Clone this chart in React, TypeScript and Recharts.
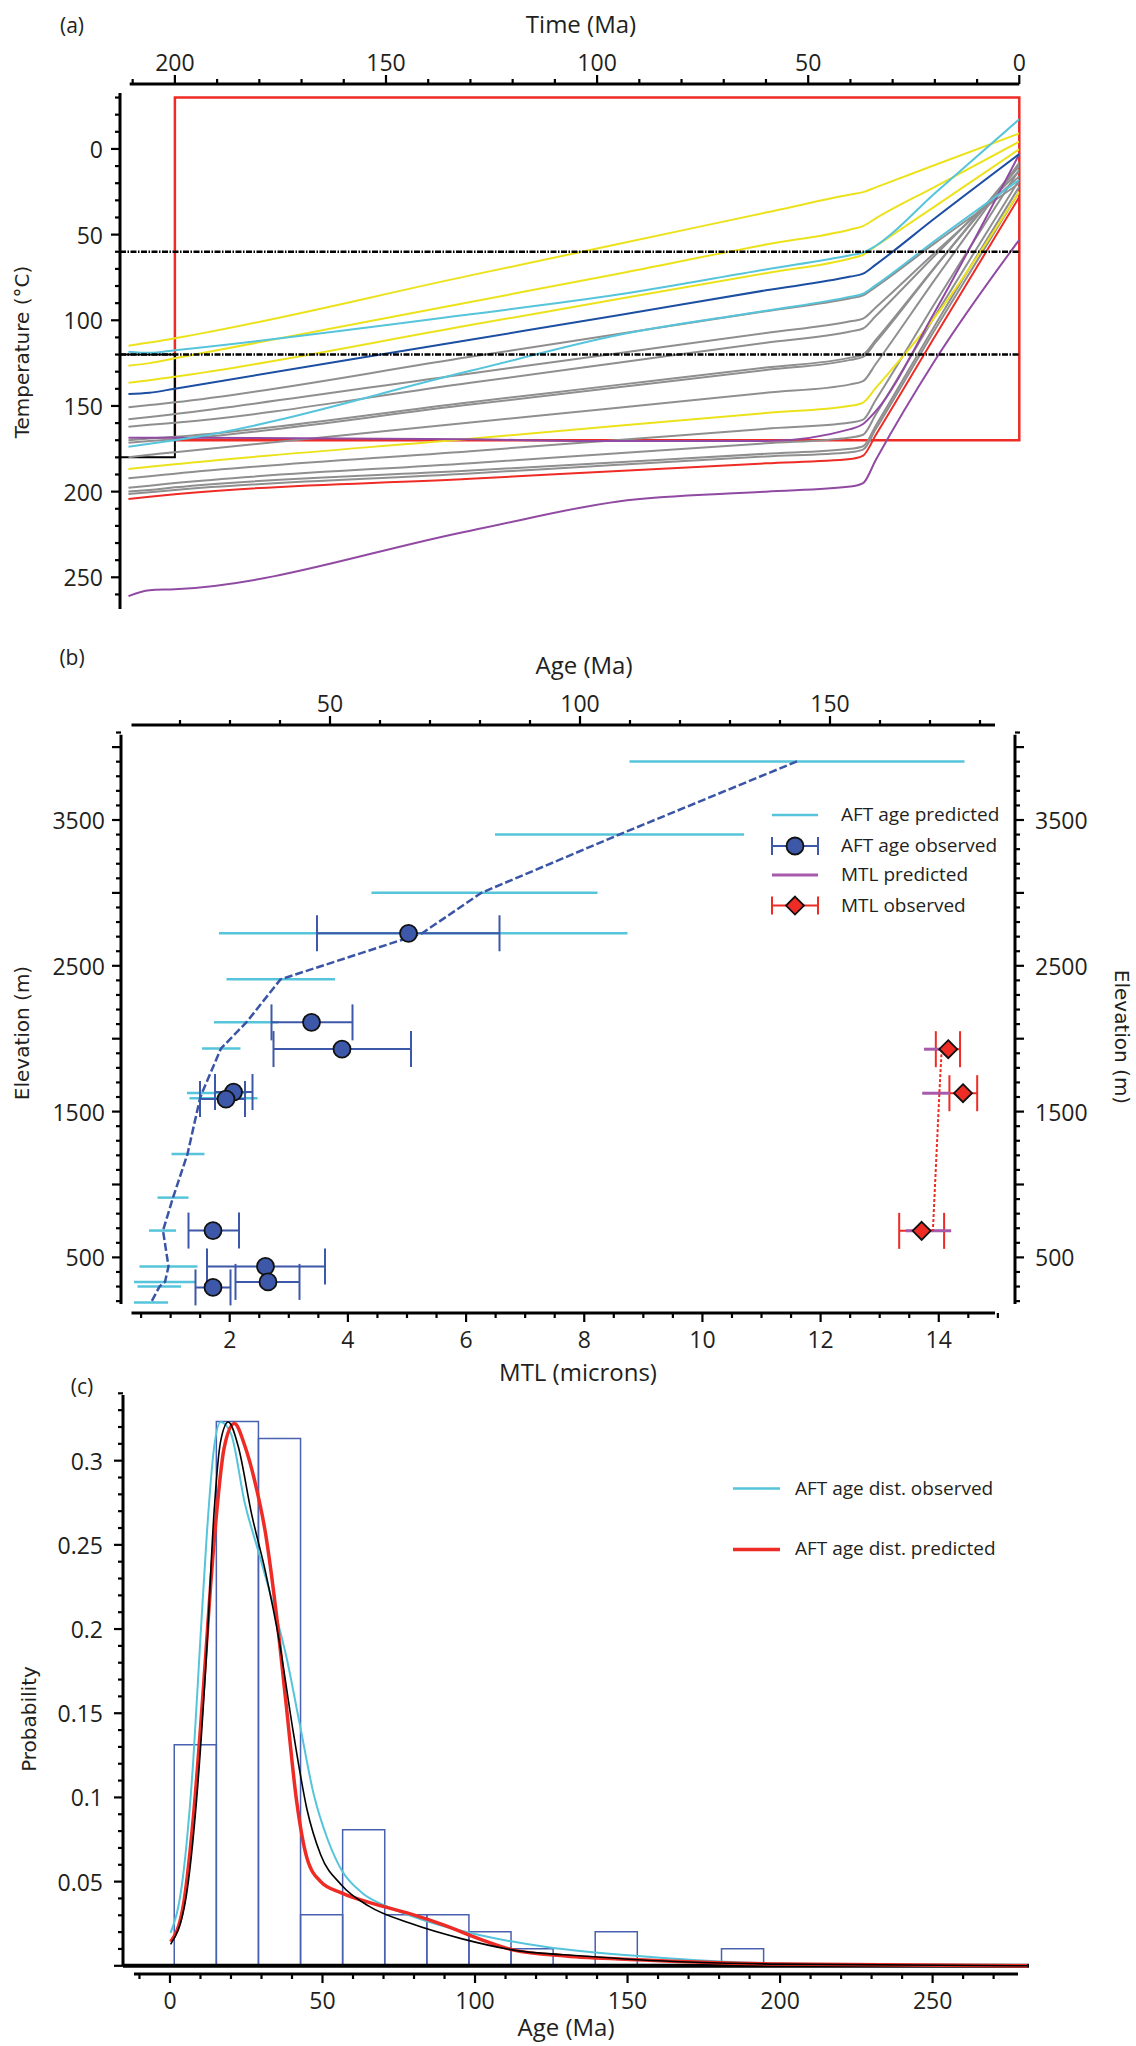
import React from "react";
import {
  LineChart,
  Line,
  ScatterChart,
  Scatter,
  ComposedChart,
  XAxis,
  YAxis,
  ReferenceLine,
  ReferenceArea,
  ErrorBar,
} from "recharts";

const FONT = "'Open Sans', 'Noto Sans', sans-serif";
const TITLE_FONT = "'DejaVu Sans', Verdana, sans-serif";
const INK = "#231f20";

// ---------- (a) time–temperature paths ----------
const pathTimes = [211, 206, 200, 130, 95, 60, 40, 37, 34, 20, 0];

const greyA = [150.8, 149.5, 147.9, 121.3, 108, 94.7, 87.1, 85.5, 80.5, 55, 20];
const greyB = [157.8, 156.5, 154.7, 131, 119.2, 107.4, 100.6, 99, 92.5, 60.5, 16];
const greyC = [162.1, 161, 159.8, 136.5, 124.8, 113.1, 106.5, 104.8, 97.5, 62.2, 13];
const greyD1 = [170, 169, 168, 147.8, 137.7, 127.6, 121.8, 120, 111.5, 69, 10];
const greyD2 = [171.5, 170.5, 169.5, 149.2, 139.1, 129, 123.1, 121.3, 112.8, 69.2, 9];
const greyE = [180, 178.5, 177, 159.6, 151, 142.3, 137.4, 135.5, 125.5, 76.3, 8];
const greyF = [192.2, 191, 189.5, 176.4, 169.9, 163.3, 159.7, 158, 146.5, 90.1, 12];
const greyG = [197.7, 196.5, 195, 183.4, 177.6, 171.8, 168.4, 166.8, 155, 97.6, 18];
const greyH = [200, 199, 197.5, 187.7, 182.8, 177.9, 175, 173.5, 161.5, 103, 22];
const greyI = [201.4, 200.3, 199, 189.4, 184.3, 179.5, 177, 175.5, 163.5, 105.5, 25];
const yellow1 = [114.8, 113, 110.5, 73.8, 55.5, 37.1, 26.6, 25.2, 22.4, 9.4, -9.1];
const yellow2 = [126.5, 125, 122.2, 89.3, 72.8, 55.8, 47, 45, 40.5, 22.1, -4.3];
const yellow3 = [136.4, 135, 133, 102.8, 87.6, 72.5, 63.9, 61.8, 56.8, 33.5, 0.2];
const yellow4 = [186.8, 185.5, 184, 169.1, 161.6, 154.1, 149.9, 148, 139.5, 98.2, 25];
const cyan1 = [118.3, 119, 117.5, 96.5, 85, 70.3, 62, 60.5, 56.5, 25.8, -17.3];
const cyan2 = [173.8, 172, 170, 129.5, 108.6, 94.4, 86.2, 84.5, 79.5, 53.6, 18];
const blue1 = [143, 142.3, 139.9, 111.3, 97.1, 82.5, 74.5, 72.8, 67.5, 40.5, 3];
const purple1 = [168.5, 168.5, 168.5, 169.5, 170.5, 170.5, 163.5, 160.5, 153, 95, 3];
const purple2 = [261, 257.5, 257, 222.8, 205.7, 200, 197, 195, 181.5, 123.5, 53];
const red1 = [204.3, 203, 201.5, 192.5, 188, 183.5, 181, 179, 167, 109.5, 28];

const timeLabels = [200, 150, 100, 50, 0];
const tempLabels = [0, 50, 100, 150, 200, 250];

// ---------- (b) age / MTL vs elevation ----------
const predElev = [3902, 3401, 3001, 2723, 2407, 2113, 1933, 1628, 1591, 1209, 910, 684, 438, 332, 300, 190];
const predAgeMin = [109.9, 83.0, 58.3, 27.8, 29.3, 26.8, 24.4, 21.4, 21.9, 18.3, 15.5, 13.8, 11.9, 10.8, 11.5, 10.8];
const predAgeMax = [176.9, 132.8, 103.5, 109.5, 51.0, 39.7, 32.1, 33.3, 35.5, 24.9, 21.7, 19.2, 23.5, 23.1, 20.2, 17.6];
const predAgeMid = [143.4, 107.9, 80.3, 68.4, 40.1, 33.3, 28.2, 24.4, 24.0, 21.5, 18.6, 16.6, 17.7, 17.0, 15.9, 14.2];

const obsElev = [2723, 2112, 1929, 1634, 1586, 684, 438, 332, 294];
const obsAge = [65.7, 46.3, 52.4, 30.7, 29.2, 26.6, 37.1, 37.6, 26.6];
const obsAgeLo = [47.4, 38.3, 38.7, 27.0, 24.0, 21.7, 25.4, 31.1, 23.1];
const obsAgeHi = [83.9, 54.5, 66.2, 34.5, 33.0, 31.8, 49.0, 43.9, 30.1];

const mtlElev = [1928, 1626, 682];
const mtlPredMid = [14.05, 14.01, 13.9];
const mtlPredLo = [13.75, 13.72, 13.44];
const mtlPredHi = [14.27, 14.19, 14.21];
const mtlObs = [14.16, 14.41, 13.71];
const mtlObsLo = [13.95, 14.18, 13.33];
const mtlObsHi = [14.36, 14.65, 14.09];

const ageLabels = [50, 100, 150];
const mtlLabels = [2, 4, 6, 8, 10, 12, 14];
const elevLabels = [500, 1500, 2500, 3500];

// ---------- (c) age distribution ----------
const binEdges = [1.4, 15.2, 29.0, 42.8, 56.6, 70.4, 84.2, 98.0, 111.8, 125.6, 139.4, 153.2, 167.0, 180.8, 194.6];
const binProb = [0.1313, 0.3232, 0.3131, 0.0303, 0.0808, 0.0303, 0.0303, 0.0202, 0.0101, 0, 0.0202, 0, 0, 0.0101];

const obsDistAge = [0.2, 4.2, 7.6, 9.8, 12.1, 14.4, 16.6, 20, 24.5, 29, 33.6, 38.1, 42.6, 47.1, 51.7, 56.2, 63, 70.9, 84.5, 101.4, 124, 153.4, 182, 230, 281];
const obsDistP = [0.0195, 0.052, 0.121, 0.189, 0.257, 0.307, 0.323, 0.316, 0.275, 0.246, 0.216, 0.184, 0.143, 0.102, 0.075, 0.057, 0.0433, 0.0354, 0.0263, 0.0183, 0.011, 0.0058, 0.0024, 0.0006, 0];
const predDistAge = [0.2, 4.2, 7.6, 11, 13.2, 15.5, 17.7, 21.1, 24.5, 27.9, 31.3, 34.7, 38.1, 41.5, 44.9, 49.4, 56.2, 67.5, 78.8, 90.1, 101.4, 112.7, 129.7, 153.4, 200, 281];
const predDistP = [0.0143, 0.034, 0.087, 0.166, 0.223, 0.273, 0.307, 0.322, 0.309, 0.287, 0.257, 0.2115, 0.155, 0.098, 0.064, 0.05, 0.0433, 0.0365, 0.0308, 0.024, 0.016, 0.0093, 0.0058, 0.0036, 0.001, 0];
const blackAge = [0.2, 5.3, 8.7, 12.1, 14.4, 16.6, 19.1, 22.3, 26.8, 31.3, 35.8, 40.4, 44.9, 49.4, 56.2, 65.2, 78.8, 95.8, 112.7, 135.3, 153.4, 200, 281];
const blackP = [0.0127, 0.041, 0.098, 0.189, 0.268, 0.3115, 0.323, 0.309, 0.268, 0.234, 0.193, 0.139, 0.093, 0.066, 0.048, 0.0354, 0.0252, 0.016, 0.0093, 0.0058, 0.0036, 0.001, 0];

const histAgeLabels = [0, 50, 100, 150, 200, 250];
const probLabels = [0.05, 0.1, 0.15, 0.2, 0.25, 0.3];

// colours
const GREY = "#8f8f8f";
const YELLOW = "#ece21c";
const CYAN = "#56c4da";
const BLUE = "#1c4ea2";
const PURPLE = "#914aa2";
const RED = "#ee2b25";
const OBS_BLUE = "#3d58a8";
const MTL_PURPLE = "#a75aab";
const HIST_BLUE = "#4a60b0";

const steps = (from: number, to: number, step: number) => {
  const out: number[] = [];
  for (let v = from; v <= to + step / 1000; v += step) out.push(Math.round(v * 1000) / 1000);
  return out;
};

const tTPaths = [
  { key: "gA", color: GREY, temps: greyA },
  { key: "gB", color: GREY, temps: greyB },
  { key: "gC", color: GREY, temps: greyC },
  { key: "gD1", color: GREY, temps: greyD1 },
  { key: "gD2", color: GREY, temps: greyD2 },
  { key: "gE", color: GREY, temps: greyE },
  { key: "gF", color: GREY, temps: greyF },
  { key: "gG", color: GREY, temps: greyG },
  { key: "gH", color: GREY, temps: greyH },
  { key: "gI", color: GREY, temps: greyI },
  { key: "y1", color: YELLOW, temps: yellow1 },
  { key: "y2", color: YELLOW, temps: yellow2 },
  { key: "y3", color: YELLOW, temps: yellow3 },
  { key: "y4", color: YELLOW, temps: yellow4 },
  { key: "p1", color: PURPLE, temps: purple1 },
  { key: "p2", color: PURPLE, temps: purple2 },
  { key: "c1", color: CYAN, temps: cyan1 },
  { key: "c2", color: CYAN, temps: cyan2 },
  { key: "b1", color: BLUE, temps: blue1 },
  { key: "r1", color: RED, temps: red1 },
];

const tTRows = pathTimes.map((t, i) => {
  const row: Record<string, number> = { time: t };
  tTPaths.forEach((p) => (row[p.key] = p.temps[i]));
  return row;
});

const predAgeRows = predElev.map((e, i) => ({
  x: predAgeMid[i],
  y: e,
  err: [predAgeMid[i] - predAgeMin[i], predAgeMax[i] - predAgeMid[i]],
}));
const obsAgeRows = obsElev.map((e, i) => ({
  x: obsAge[i],
  y: e,
  err: [obsAge[i] - obsAgeLo[i], obsAgeHi[i] - obsAge[i]],
}));
const mtlPredRows = mtlElev.map((e, i) => ({
  x: mtlPredMid[i],
  y: e,
  err: [mtlPredMid[i] - mtlPredLo[i], mtlPredHi[i] - mtlPredMid[i]],
}));
const mtlObsRows = mtlElev.map((e, i) => ({
  x: mtlObs[i],
  y: e,
  err: [mtlObs[i] - mtlObsLo[i], mtlObsHi[i] - mtlObs[i]],
}));

const toCurve = (ages: number[], ps: number[]) => ages.map((a, i) => ({ age: a, p: ps[i] }));

// tick with major/minor marks, drawn from the axis line outward
const AxisTick = (props: any) => {
  const { x, y, payload, side, labels, majors, gap } = props;
  const v: number = payload.value;
  const near = (a: number) => Math.abs(a - v) < 1e-6;
  const labelled = labels.some(near);
  const major = labelled || majors.some(near);
  const len = major ? 9 : 5;
  const dx = side === "left" ? -1 : side === "right" ? 1 : 0;
  const dy = side === "top" ? -1 : side === "bottom" ? 1 : 0;
  return (
    <g>
      <line x1={x} y1={y} x2={x + dx * len} y2={y + dy * len} stroke="#000" strokeWidth={2.2} />
      {labelled && (
        <text
          x={x + dx * gap}
          y={y + dy * gap}
          textAnchor={side === "left" ? "end" : side === "right" ? "start" : "middle"}
          dominantBaseline="central"
          fontFamily={FONT}
          fontSize={23}
          fill={INK}
        >
          {String(v)}
        </text>
      )}
    </g>
  );
};

const hidden = () => <g />;
const ObsCircle = (p: any) => (
  <circle cx={p.cx} cy={p.cy} r={8.5} fill={OBS_BLUE} stroke="#111" strokeWidth={1.8} />
);
const ObsDiamond = (p: any) => (
  <polygon
    points={`${p.cx},${p.cy - 9} ${p.cx + 9},${p.cy} ${p.cx},${p.cy + 9} ${p.cx - 9},${p.cy}`}
    fill={RED}
    stroke="#111"
    strokeWidth={1.8}
  />
);

const Txt = ({ x, y, text, rotate = 0, size = 24, family = FONT, anchor = "center" }: any) => (
  <div
    style={{
      position: "absolute",
      left: x,
      top: y,
      transform:
        anchor === "center"
          ? `translate(-50%, -50%) rotate(${rotate}deg)`
          : "translate(0, -50%)",
      whiteSpace: "nowrap",
      fontSize: size,
      fontFamily: family,
      lineHeight: 1.25,
      color: INK,
    }}
  >
    {text}
  </div>
);

const AXIS = { stroke: "#000", strokeWidth: 3 };

function ThermalPanel() {
  return (
    <LineChart width={1136} height={640} data={tTRows} margin={{ top: 44, right: 116.7, bottom: 31, left: 60 }}>
      <XAxis
        xAxisId="t"
        type="number"
        dataKey="time"
        orientation="top"
        domain={[0, 213]}
        reversed
        allowDataOverflow
        height={40}
        ticks={steps(0, 210, 10)}
        interval={0}
        tickSize={0}
        tickMargin={0}
        tickLine={false}
        axisLine={false}
        tick={<AxisTick side="top" labels={timeLabels} majors={timeLabels} gap={22} />}
      />
      <YAxis
        yAxisId="T"
        type="number"
        domain={[-37.9, 268.5]}
        reversed
        allowDataOverflow
        width={60}
        ticks={steps(-30, 260, 10)}
        interval={0}
        tickSize={0}
        tickMargin={0}
        tickLine={false}
        axisLine={false}
        tick={<AxisTick side="left" labels={tempLabels} majors={tempLabels} gap={17} />}
      />
      <ReferenceLine xAxisId="t" yAxisId="T" segment={[{ x: 210.7, y: -37.9 }, { x: 0, y: -37.9 }]} {...AXIS} ifOverflow="visible" />
      <ReferenceLine xAxisId="t" yAxisId="T" segment={[{ x: 213, y: -32.7 }, { x: 213, y: 268.5 }]} {...AXIS} ifOverflow="visible" />
      {tTPaths.map((p) => (
        <Line
          key={p.key}
          xAxisId="t"
          yAxisId="T"
          dataKey={p.key}
          type="monotoneX"
          stroke={p.color}
          strokeWidth={2}
          dot={false}
          isAnimationActive={false}
        />
      ))}
      <ReferenceLine xAxisId="t" yAxisId="T" y={60} stroke="#000" strokeWidth={2.5} strokeDasharray="6 1.5 1.5 1.5" />
      <ReferenceLine xAxisId="t" yAxisId="T" y={120} stroke="#000" strokeWidth={2.5} strokeDasharray="6 1.5 1.5 1.5" />
      <ReferenceArea xAxisId="t" yAxisId="T" x1={200} x2={0} y1={-30} y2={170} fill="none" stroke={RED} strokeWidth={2.5} ifOverflow="visible" />
      <ReferenceArea xAxisId="t" yAxisId="T" x1={213} x2={200} y1={120} y2={180} fill="none" stroke="#000" strokeWidth={2} ifOverflow="visible" />
    </LineChart>
  );
}

function ElevationPanel() {
  const elevTicks = steps(200, 4100, 100);
  const elevMajors = steps(500, 4000, 500);
  return (
    <ScatterChart width={1136} height={730} margin={{ top: 45, right: 61, bottom: 17, left: 61 }}>
      <XAxis
        xAxisId="age"
        type="number"
        dataKey="x"
        orientation="top"
        domain={[8.2, 187]}
        allowDataOverflow
        height={40}
        ticks={steps(20, 180, 10)}
        interval={0}
        tickSize={0}
        tickMargin={0}
        tickLine={false}
        axisLine={false}
        tick={<AxisTick side="top" labels={ageLabels} majors={ageLabels} gap={22} />}
      />
      <XAxis
        xAxisId="mtl"
        type="number"
        dataKey="x"
        orientation="bottom"
        domain={[0.16, 15.29]}
        allowDataOverflow
        height={40}
        ticks={steps(0.5, 15, 0.5)}
        interval={0}
        tickSize={0}
        tickMargin={0}
        tickLine={false}
        axisLine={false}
        tick={<AxisTick side="bottom" labels={mtlLabels} majors={mtlLabels} gap={26} />}
      />
      <YAxis
        yAxisId="el"
        type="number"
        dataKey="y"
        domain={[118.6, 4151.6]}
        allowDataOverflow
        width={60}
        ticks={elevTicks}
        interval={0}
        tickSize={0}
        tickMargin={0}
        tickLine={false}
        axisLine={false}
        tick={<AxisTick side="left" labels={elevLabels} majors={elevMajors} gap={16} />}
      />
      <YAxis
        yAxisId="elR"
        orientation="right"
        type="number"
        dataKey="y"
        domain={[118.6, 4151.6]}
        allowDataOverflow
        width={60}
        ticks={elevTicks}
        interval={0}
        tickSize={0}
        tickMargin={0}
        tickLine={false}
        axisLine={false}
        tick={<AxisTick side="right" labels={elevLabels} majors={elevMajors} gap={20} />}
      />
      <ReferenceLine xAxisId="age" yAxisId="el" segment={[{ x: 10.3, y: 4151.6 }, { x: 183, y: 4151.6 }]} {...AXIS} ifOverflow="visible" />
      <ReferenceLine xAxisId="age" yAxisId="el" segment={[{ x: 10.3, y: 118.6 }, { x: 183, y: 118.6 }]} {...AXIS} ifOverflow="visible" />
      <ReferenceLine xAxisId="age" yAxisId="el" segment={[{ x: 8.2, y: 180 }, { x: 8.2, y: 4085 }]} {...AXIS} ifOverflow="visible" />
      <ReferenceLine xAxisId="age" yAxisId="el" segment={[{ x: 187, y: 180 }, { x: 187, y: 4085 }]} {...AXIS} ifOverflow="visible" />

      <Scatter xAxisId="age" yAxisId="el" data={predAgeRows} shape={hidden} isAnimationActive={false}>
        <ErrorBar dataKey="err" direction="x" width={0} stroke={CYAN} strokeWidth={2.5} />
      </Scatter>
      <Scatter
        xAxisId="age"
        yAxisId="el"
        data={predAgeRows}
        shape={hidden}
        line={{ stroke: "#3a55a6", strokeWidth: 2.5, strokeDasharray: "8 3" }}
        lineType="joint"
        isAnimationActive={false}
      />
      <Scatter xAxisId="age" yAxisId="el" data={obsAgeRows} shape={ObsCircle} isAnimationActive={false}>
        <ErrorBar dataKey="err" direction="x" width={18} stroke={OBS_BLUE} strokeWidth={2} />
      </Scatter>
      <Scatter
        xAxisId="mtl"
        yAxisId="el"
        data={mtlPredRows}
        shape={hidden}
        line={{ stroke: RED, strokeWidth: 2, strokeDasharray: "3 2" }}
        lineType="joint"
        isAnimationActive={false}
      />
      <Scatter xAxisId="mtl" yAxisId="el" data={mtlObsRows} shape={ObsDiamond} isAnimationActive={false}>
        <ErrorBar dataKey="err" direction="x" width={18} stroke={RED} strokeWidth={2} />
      </Scatter>
      <Scatter xAxisId="mtl" yAxisId="el" data={mtlPredRows} shape={hidden} isAnimationActive={false}>
        <ErrorBar dataKey="err" direction="x" width={0} stroke={MTL_PURPLE} strokeWidth={3} />
      </Scatter>
    </ScatterChart>
  );
}

function DistributionPanel() {
  return (
    <ComposedChart width={1136} height={676} margin={{ top: 25, right: 107, bottom: 32, left: 63 }}>
      <XAxis
        type="number"
        dataKey="age"
        domain={[-15.4, 281.6]}
        allowDataOverflow
        height={40}
        ticks={steps(-10, 270, 10)}
        interval={0}
        tickSize={0}
        tickMargin={0}
        tickLine={false}
        axisLine={false}
        tick={<AxisTick side="bottom" labels={histAgeLabels} majors={histAgeLabels} gap={26} />}
      />
      <YAxis
        type="number"
        domain={[-0.00487, 0.339]}
        allowDataOverflow
        width={60}
        ticks={steps(0, 0.34, 0.01)}
        interval={0}
        tickSize={0}
        tickMargin={0}
        tickLine={false}
        axisLine={false}
        tick={<AxisTick side="left" labels={probLabels} majors={[0, ...probLabels]} gap={20} />}
      />
      <ReferenceLine segment={[{ x: -15.4, y: 0 }, { x: -15.4, y: 0.339 }]} {...AXIS} ifOverflow="visible" />
      <ReferenceLine segment={[{ x: -11.8, y: -0.00487 }, { x: 278, y: -0.00487 }]} {...AXIS} ifOverflow="visible" />
      {binProb.map((p, i) =>
        p > 0 ? (
          <ReferenceArea
            key={i}
            x1={binEdges[i]}
            x2={binEdges[i + 1]}
            y1={0}
            y2={p}
            fill="none"
            stroke={HIST_BLUE}
            strokeWidth={1.5}
            ifOverflow="visible"
          />
        ) : null
      )}
      <ReferenceLine y={0} stroke="#000" strokeWidth={4} />
      <Line data={toCurve(obsDistAge, obsDistP)} dataKey="p" type="monotone" stroke={CYAN} strokeWidth={2} dot={false} isAnimationActive={false} />
      <Line data={toCurve(predDistAge, predDistP)} dataKey="p" type="monotone" stroke={RED} strokeWidth={3.5} dot={false} isAnimationActive={false} />
      <Line data={toCurve(blackAge, blackP)} dataKey="p" type="monotone" stroke="#000" strokeWidth={1.6} dot={false} isAnimationActive={false} />
    </ComposedChart>
  );
}

const LegendText = ({ x, y, text }: any) => <Txt x={x} y={y} text={text} size={19} anchor="left" />;

export default function App() {
  return (
    <div style={{ position: "absolute", left: 0, top: 0, width: 1136, height: 2046, background: "#fff" }}>
      <div style={{ position: "absolute", left: 0, top: 0 }}>
        <ThermalPanel />
      </div>
      <div style={{ position: "absolute", left: 0, top: 640 }}>
        <ElevationPanel />
      </div>
      <div style={{ position: "absolute", left: 0, top: 1370 }}>
        <DistributionPanel />
      </div>

      {/* panel (a) texts */}
      <Txt x={72} y={25} text="(a)" size={21} />
      <Txt x={581} y={24} text="Time (Ma)" />
      <Txt x={22} y={352} text="Temperature (°C)" rotate={-90} size={20} family={TITLE_FONT} />

      {/* panel (b) texts */}
      <Txt x={72} y={657} text="(b)" size={21} />
      <Txt x={584} y={665} text="Age (Ma)" />
      <Txt x={22} y={1033} text="Elevation (m)" rotate={-90} size={20} family={TITLE_FONT} />
      <Txt x={1121} y={1037} text="Elevation (m)" rotate={90} size={20} family={TITLE_FONT} />
      <Txt x={578} y={1372} text="MTL (microns)" />

      {/* panel (b) legend */}
      <svg style={{ position: "absolute", left: 0, top: 0 }} width={1136} height={2046} pointerEvents="none">
        <line x1={772} y1={815} x2={818} y2={815} stroke={CYAN} strokeWidth={2.5} />
        <line x1={772} y1={846} x2={818} y2={846} stroke={OBS_BLUE} strokeWidth={2} />
        <line x1={772} y1={837} x2={772} y2={855} stroke={OBS_BLUE} strokeWidth={2} />
        <line x1={818} y1={837} x2={818} y2={855} stroke={OBS_BLUE} strokeWidth={2} />
        <circle cx={795} cy={846} r={8.5} fill={OBS_BLUE} stroke="#111" strokeWidth={1.8} />
        <line x1={772} y1={875} x2={818} y2={875} stroke={MTL_PURPLE} strokeWidth={3} />
        <line x1={772} y1={905.6} x2={818} y2={905.6} stroke={RED} strokeWidth={2} />
        <line x1={772} y1={896.6} x2={772} y2={914.6} stroke={RED} strokeWidth={2} />
        <line x1={818} y1={896.6} x2={818} y2={914.6} stroke={RED} strokeWidth={2} />
        <polygon points="795,896.6 804,905.6 795,914.6 786,905.6" fill={RED} stroke="#111" strokeWidth={1.8} />
        <line x1={733} y1={1488.6} x2={780} y2={1488.6} stroke={CYAN} strokeWidth={2.5} />
        <line x1={733} y1={1549.4} x2={780} y2={1549.4} stroke={RED} strokeWidth={3.5} />
      </svg>
      <LegendText x={841} y={815} text="AFT age predicted" />
      <LegendText x={841} y={846} text="AFT age observed" />
      <LegendText x={841} y={875} text="MTL predicted" />
      <LegendText x={841} y={905.6} text="MTL observed" />

      {/* panel (c) texts */}
      <Txt x={82} y={1386} text="(c)" size={21} />
      <Txt x={29} y={1719} text="Probability" rotate={-90} size={20} family={TITLE_FONT} />
      <Txt x={566} y={2027} text="Age (Ma)" />
      <LegendText x={795} y={1488.6} text="AFT age dist. observed" />
      <LegendText x={795} y={1549.4} text="AFT age dist. predicted" />
    </div>
  );
}
